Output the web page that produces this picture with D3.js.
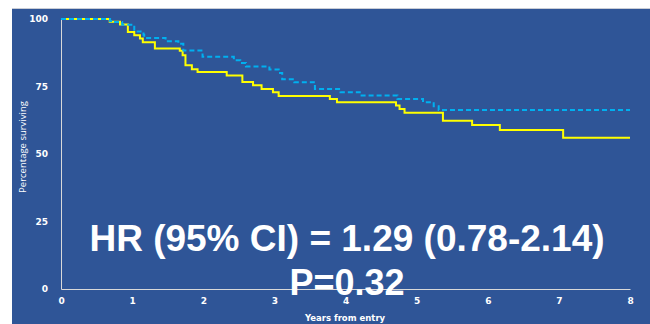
<!DOCTYPE html>
<html>
<head>
<meta charset="utf-8">
<script src="https://cdn.jsdelivr.net/npm/d3@7"></script>
<style>
  body { margin: 0; background: #ffffff; }
  svg { display: block; }
</style>
</head>
<body>
<div id="chart"></div>
<script>
// Kaplan-Meier steps (years, % surviving)
const yellowTimes = [0, 0.685, 0.83, 0.94, 1.03, 1.11, 1.15, 1.32, 1.67, 1.71, 1.75, 1.84, 1.92, 2.33, 2.55, 2.70, 2.82, 2.98, 3.06, 3.78, 3.88, 4.71, 4.76, 4.83, 5.37, 5.78, 6.17, 7.06, 8];
const yellowValues = [100, 99.0, 98.0, 95.2, 94.0, 92.8, 91.4, 89.1, 88.2, 86.6, 82.9, 81.4, 80.4, 79.1, 76.7, 75.5, 74.1, 72.9, 71.5, 70.4, 69.2, 68.0, 66.7, 65.3, 62.3, 60.7, 58.9, 56.0, 56.0];

const blueTimes = [0, 0.69, 0.73, 0.86, 1.03, 1.16, 1.17, 1.47, 1.65, 1.72, 1.99, 2.43, 2.52, 2.60, 2.93, 3.06, 3.11, 3.28, 3.57, 3.93, 4.20, 4.73, 5.09, 5.24, 5.31, 8];
const blueValues = [100, 99.3, 98.9, 97.9, 95.4, 94.2, 93.0, 91.8, 90.8, 88.3, 86.0, 84.7, 83.7, 82.4, 81.3, 80.0, 77.7, 76.6, 74.1, 72.9, 71.7, 70.4, 69.2, 67.7, 66.3, 66.3];

const xTicks = [0, 1, 2, 3, 4, 5, 6, 7, 8];
const yTicks = [0, 25, 50, 75, 100];

const hrText = "HR (95% CI) = 1.29 (0.78-2.14)";
const pText = "P=0.32";

const width = 650, height = 324;

const svg = d3.select('#chart')
    .append('svg')
    .attr('width', width)
    .attr('height', height);

// blue slide panel
svg.append('rect')
    .attr('x', 12).attr('y', 8)
    .attr('width', width - 12).attr('height', height - 8)
    .attr('fill', '#2F5597');
svg.append('line')
    .attr('x1', 12).attr('x2', width)
    .attr('y1', 8.5).attr('y2', 8.5)
    .attr('stroke', '#c9cdd6');

const x = d3.scaleLinear().domain([0, 8]).range([61, 630]);
const y = d3.scaleLinear().domain([0, 100]).range([289, 19]);

// axes
const xAxis = svg.append('g')
    .attr('transform', `translate(0, ${y(0)})`)
    .call(d3.axisBottom(x).tickValues(xTicks).tickSize(0).tickPadding(9));
const yAxis = svg.append('g')
    .attr('transform', `translate(${x(0)}, 0)`)
    .call(d3.axisLeft(y).tickValues(yTicks).tickSize(0).tickPadding(13));

[xAxis, yAxis].forEach(g => {
    g.select('.domain').attr('stroke', '#d9d9d9').attr('stroke-width', 1);
    g.selectAll('text')
        .attr('fill', '#ffffff')
        .attr('font-family', 'DejaVu Sans')
        .attr('font-weight', 'bold')
        .attr('font-size', 9);
});

// axis titles
svg.append('text')
    .attr('x', 345).attr('y', 321)
    .attr('text-anchor', 'middle')
    .attr('fill', '#ffffff')
    .attr('font-family', 'DejaVu Sans')
    .attr('font-weight', 'bold')
    .attr('font-size', 8.5)
    .text('Years from entry');

svg.append('text')
    .attr('transform', 'translate(26, 147) rotate(-90)')
    .attr('text-anchor', 'middle')
    .attr('fill', '#ffffff')
    .attr('font-family', 'Open Sans')
    .attr('font-size', 9.5)
    .text('Percentage surviving');

// survival curves
const line = d3.line()
    .x(d => x(d[0]))
    .y(d => y(d[1]))
    .curve(d3.curveStepAfter);

svg.append('path')
    .datum(d3.zip(yellowTimes, yellowValues))
    .attr('d', line)
    .attr('fill', 'none')
    .attr('stroke', '#FFFF00')
    .attr('stroke-width', 2);

svg.append('path')
    .datum(d3.zip(blueTimes, blueValues))
    .attr('d', line)
    .attr('fill', 'none')
    .attr('stroke', '#00B0F0')
    .attr('stroke-width', 2)
    .attr('stroke-dasharray', '5,3');

// big annotation, drawn last so it sits over the axis like the slide
svg.append('text')
    .attr('x', 347).attr('y', 251)
    .attr('text-anchor', 'middle')
    .attr('fill', '#ffffff')
    .attr('font-family', 'Liberation Sans')
    .attr('font-weight', 'bold')
    .attr('font-size', 37)
    .text(hrText);

svg.append('text')
    .attr('x', 347).attr('y', 295)
    .attr('text-anchor', 'middle')
    .attr('fill', '#ffffff')
    .attr('font-family', 'Liberation Sans')
    .attr('font-weight', 'bold')
    .attr('font-size', 36)
    .text(pText);
</script>
</body>
</html>
